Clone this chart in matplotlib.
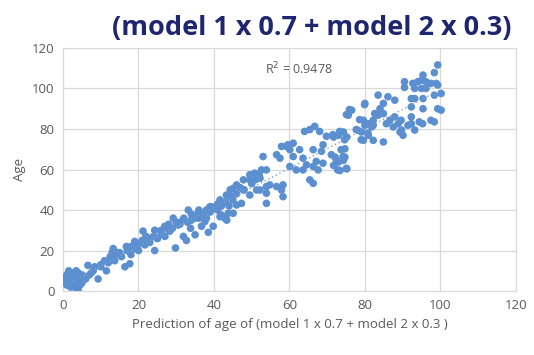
import numpy as np
import matplotlib
matplotlib.use("Agg")
import matplotlib.pyplot as plt

pred_low = [1, 1, 2, 2, 3, 3, 4, 4, 5, 1, 2, 0.5, 3, 5, 6, 6.6, 8.4, 6.2, 9.3,
            11, 11.5, 13.3, 13.7, 15.5, 16.4, 17.7, 16.8, 19, 20, 21.2, 21.7, 23,
            24.3, 24.3, 26, 27, 28.3, 29.8, 29.2, 30.5, 31.9, 32.7, 33.2, 34, 35,
            35.8, 36.7, 37.6, 38.5, 38.9, 39.8, 41, 42, 43.4, 43.8, 44.3, 44.7,
            2.5, 3.5, 7.5, 10, 12.5, 14.5, 18, 19.5, 22.5, 25, 27.5, 31, 33.8, 36,
            21, 22, 23, 24, 25, 26, 27, 28, 29, 30, 31, 32, 33, 34, 35, 36, 37, 38,
            39, 40, 41, 42, 43, 44, 45, 20, 19, 18, 17, 15, 14, 13, 12, 10, 8, 7,
            5, 4, 1.5, 0.8, 3, 4.5]
age_low = [8, 6, 9, 5, 7, 3, 1, 6, 8, 3, 2, 7, 9, 5, 6, 12.7, 12, 7, 6,
           15, 10, 21, 15, 17, 12, 13.5, 22, 24.5, 20, 29.6, 22.8, 26,
           30, 20, 28, 32, 29.6, 21.3, 36, 32.6, 27, 25, 40, 35, 27.8,
           38.4, 32, 34.3, 29, 41.6, 32, 43, 37.5, 35, 38.4, 50, 46.6,
           4, 10, 9, 13, 17, 19, 18, 22, 25, 26, 31, 34, 31, 36,
           25, 27, 24, 27, 26, 30, 27, 33, 31, 34, 33, 36, 34, 38, 36, 40, 38, 36,
           39, 41, 40, 42, 44, 42, 45, 23, 21, 22, 20, 19, 18, 19, 14, 12, 10, 8,
           4, 9, 10, 4, 2, 3]

pred_mid = [38, 39.4, 41.6, 43.3, 45.1, 46, 47.8, 49.5, 50.8, 52.6, 53, 53.9, 52.2,
            53.9, 54.8, 52.2, 53.9, 53.9, 56.6, 58.3, 58.3, 57.9, 56.6, 57.9, 59.6,
            61, 60.1, 61.8, 62.7, 63.6, 64, 64.5, 65.4, 66.3, 66.7, 67.1, 68, 68.9,
            68.9, 68.5, 69.8, 71.1, 71.5, 72.4, 72.8, 73.3, 73.7, 74.2, 74.6, 75.1,
            75.1, 75.9, 77.7, 78.6, 79, 79.9, 80.8, 65.4, 66.3, 66.3, 67.6, 63.6,
            60.1, 61, 57.5, 59.2, 41.6, 42.9, 45.1, 46, 47.3, 49.5, 47.8, 49.5, 51.3,
            46, 48, 50, 51, 52, 44, 47]
age_mid = [40, 41.6, 45, 47.4, 50.7, 52.4, 54.9, 57.4, 58.2, 59.8, 66.4, 59.8, 55.7,
           51.6, 52.4, 49.9, 48.3, 43.3, 51.6, 52.4, 46.6, 49.9, 67.3, 71.4, 72.2,
           73, 61.5, 59.8, 69.8, 65.6, 78.8, 62.3, 54.9, 53.2, 81.3, 64, 78.8, 72.2,
           63.1, 69, 76.4, 67.3, 77.2, 64.8, 59.8, 78.8, 69.8, 66.4, 74.7, 60.6,
           87.1, 89.6, 79.7, 84.6, 74.7, 92, 78, 79.7, 69.8, 61.5, 59.8, 59.8,
           69.8, 66.4, 65.6, 71.4, 36.7, 35.9, 38.4, 42.5, 43.3, 54.9, 49.9, 47.4, 49.9,
           48, 50, 53, 55, 57, 47, 51]

pred_high = [99.3, 98.4, 95.4, 95, 94, 96.2, 97.5, 98.9, 99.3, 92.7, 93.2, 95, 96.2,
             90.5, 90.5, 92.3, 93.2, 95.4, 98.4, 100.2, 99.3, 100.2, 95.4, 92.3, 92.3,
             92.3, 94.4, 95.3, 97.5, 98.4, 93.2, 89.7, 90.1, 88.8, 89.3, 87.9, 87.9,
             86.1, 84.9, 84.9, 84, 85.7, 86.6, 87.5, 84.9, 83.5, 83.5, 82.6, 82.2,
             81.8, 82.2, 80.9, 80, 79.6, 79.1, 79.6, 78.2, 76.5, 75.6, 75.2, 74.3,
             73, 71.7, 74.7, 74.7, 74.3, 73, 75.2, 73.4, 72.1, 71.7, 84, 82.2, 80.9,
             80, 89.6, 91.4]
age_high = [111.6, 107.8, 106.6, 104, 103.3, 103.3, 102.5, 102.5, 101.7, 102.5, 100, 100, 100,
            103.3, 100.5, 95, 95, 95, 96.7, 97.5, 90, 89.3, 90, 90.9, 86,
            82.6, 83.5, 82.6, 84.3, 83.5, 79.5, 79.5, 76.9, 82.6, 78.5, 86, 94.2,
            95.9, 92.6, 87.6, 87.6, 82.6, 84.3, 81, 73.6, 96.7, 86.8, 87.6, 84.3,
            81, 74.4, 76.9, 92.6, 84.3, 78.5, 74.4, 79.3, 89.3, 86.8, 76, 78.5,
            76.9, 76, 70.2, 66.1, 64.5, 63.7, 60.3, 59.5, 66.1, 62,
            90, 81.8, 82.6, 81.8, 84.3, 81.8]

pred = np.array(pred_low + pred_mid + pred_high)
age = np.array(age_low + age_mid + age_high)

r2_label = "R$^2$ = 0.9478"
title = "(model 1 x 0.7 + model 2 x 0.3)"

plt.rcParams['font.family'] = ['Open Sans', 'DejaVu Sans']

fig = plt.figure(figsize=(5.34, 3.55), dpi=100)
ax = fig.add_axes([0.118, 0.18, 0.848, 0.685])

ax.scatter(pred, age, s=30, color="#5B8FD0", edgecolors="none", zorder=3)

# linear trendline
k, b = np.polyfit(pred, age, 1)
xs = np.array([pred.min(), pred.max()])
ax.plot(xs, k * xs + b, linestyle=(0, (1, 2)), color="#7F9FC8", linewidth=1, zorder=4)

ax.text(62.5, 109.5, r2_label, fontsize=9, color="#595959", ha="center", va="center")

ax.set_xlim(0, 120)
ax.set_ylim(0, 120)
ax.set_xticks(np.arange(0, 121, 20))
ax.set_yticks(np.arange(0, 121, 20))
ax.grid(color="#D9D9D9", linewidth=0.9)
ax.set_axisbelow(True)
ax.tick_params(length=0, labelsize=9.5, labelcolor="#595959", pad=6)
for sp in ax.spines.values():
    sp.set_color("#D9D9D9")

ax.set_xlabel("Prediction of age of (model 1 x 0.7 + model 2 x 0.3 )", fontsize=9.5, color="#595959", labelpad=4)
ax.set_ylabel("Age", fontsize=9.5, color="#595959", labelpad=4)

fig.text(0.958, 0.921, title, fontsize=19.5, fontweight="bold", color="#1F2670", ha="right", va="center")

fig.savefig("out.png", dpi=100)
